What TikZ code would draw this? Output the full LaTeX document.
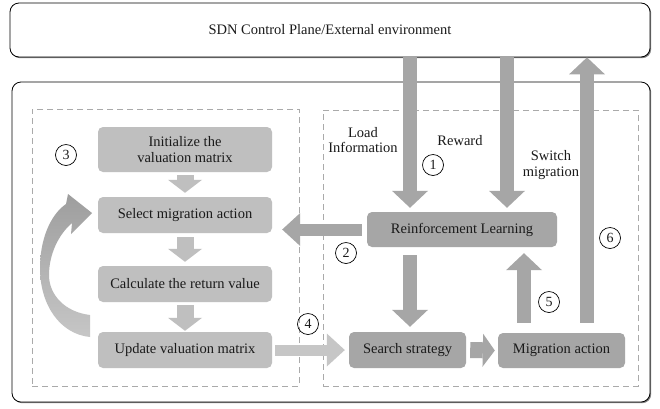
\documentclass[tikz,border=0pt]{standalone}
\usepackage{fontspec}
\setmainfont{Liberation Serif}
\usetikzlibrary{arrows.meta,calc,shadows}
\definecolor{lgray}{HTML}{BFBFBF}
\definecolor{dgray}{HTML}{A6A6A6}
\definecolor{agray}{HTML}{C6C6C6}
\definecolor{dashgray}{HTML}{AAAAAA}
\definecolor{shgray}{HTML}{808080}
\definecolor{txt}{HTML}{1A1A1A}
\begin{document}
\begin{tikzpicture}[x=1pt,y=-1pt,
  every node/.style={font=\fontsize{14.5}{15.5}\selectfont, text=txt},
  lbox/.style={fill=lgray, rounded corners=5pt, align=center, inner sep=0pt},
  dbox/.style={fill=dgray, rounded corners=5pt, align=center, inner sep=0pt},
  frame/.style={draw=black, fill=white, line width=0.8pt, rounded corners=9pt, inner sep=0pt,
    drop shadow={shadow xshift=1.2pt, shadow yshift=-1.2pt, fill=shgray, opacity=1}},
  dframe/.style={draw=dashgray, line width=0.8pt, dash pattern=on 6pt off 4pt, inner sep=0pt},
  fatd/.style={draw=dgray, line width=14pt, -{Triangle[width=36pt,length=17pt,line width=0pt]}},
  fatl/.style={draw=lgray, line width=17pt, -{Triangle[width=34pt,length=13pt,line width=0pt]}},
  num/.style={circle, draw=black, line width=0.7pt, inner sep=0pt, minimum size=21pt, font=\fontsize{14}{14}\selectfont},
  lab/.style={align=center, inner sep=0pt}
]
\useasboundingbox (0,0) rectangle (660,408);

% frames
\node[frame, minimum width=640pt, minimum height=54pt] (top) at (330,30) {SDN Control Plane/External environment};
\node[frame, minimum width=638pt, minimum height=320pt] (outer) at (331,242) {};
\node[dframe, minimum width=267pt, minimum height=277pt] (lframe) at (165.5,247.5) {};
\node[dframe, minimum width=315pt, minimum height=276pt] (rframe) at (480.5,248) {};

% left column
\node[lbox, minimum width=174pt, minimum height=45pt] (init) at (185,149.5) {Initialize the\\valuation matrix};
\node[lbox, minimum width=174pt, minimum height=36pt] (select) at (185,215) {Select migration action};
\node[lbox, minimum width=174pt, minimum height=36pt] (calc) at (185,284) {Calculate the return value};
\node[lbox, minimum width=174pt, minimum height=36pt] (update) at (185,350) {Update valuation matrix};

% right column
\node[dbox, minimum width=190pt, minimum height=35pt] (RL) at (462,229.5) {Reinforcement Learning};
\node[dbox, minimum width=117pt, minimum height=36pt] (search) at (407.5,350) {Search strategy};
\node[dbox, minimum width=127pt, minimum height=35pt] (mig) at (561.5,350.5) {Migration action};

% x positions of vertical arrows
\coordinate (xa) at (410,0);
\coordinate (xb) at (507,0);
\coordinate (xc) at (587,0);
\coordinate (xd) at (524,0);

% left column arrows
\draw[fatl] ($(init.south)+(0,3)$) -- ($(select.north)+(0,-4)$);
\draw[fatl] ($(select.south)+(0,4)$) -- ($(calc.north)+(0,-4)$);
\draw[fatl] ($(calc.south)+(0,3)$) -- ($(update.north)+(0,-1)$);

% loop arrow (update -> select)
\shade[top color=dgray!95!black, bottom color=agray]
  (90,337) .. controls (60,334) and (40,305) .. (40,268)
  .. controls (40,240) and (50,215) .. (66,204)
  -- (68,194) -- (92,213) -- (71,234) -- (72,223)
  .. controls (58,235) and (49,255) .. (49,275)
  .. controls (49,295) and (65,312) .. (90,315) -- cycle;

% environment arrows
\draw[fatd] (top.south -| xa) -- ($(RL.north -| xa)+(0,-4)$);
\draw[fatd] (top.south -| xb) -- ($(RL.north -| xb)+(0,-4)$);
\draw[fatd] ($(mig.north -| xc)+(0,-10)$) -- (top.south -| xc);
\draw[fatd] ($(mig.north -| xd)+(0,-10)$) -- ($(RL.south -| xd)+(0,6)$);
\draw[fatd] ($(RL.south -| xa)+(0,8)$) -- ($(search.north -| xa)+(0,-5)$);
\draw[draw=dgray, line width=16pt, -{Triangle[width=33pt,length=12pt,line width=0pt]}] ($(search.east)+(4,0)$) -- ($(mig.west)+(-3,0)$);
\draw[draw=agray, line width=11pt, -{Triangle[width=33pt,length=18pt,line width=0pt]}] ($(update.east)+(3,0)$) -- ($(search.west)+(-4,0)$);
\draw[draw=dgray, line width=12pt, -{Triangle[width=33pt,length=18pt,line width=0pt]}] ($(RL.west)+(-5,0)$) -- ($(select.east |- RL.west)+(10,0)$);

% labels
\node[lab] (lload) at (363,140) {Load\\Information};
\node[lab] (lrew) at (460,141) {Reward};
\node[lab] (lsw) at (551,165) {Switch\\migration};

% numbers
\node[num] (n1) at (433,165) {1};
\node[num] (n2) at (346,253) {2};
\node[num] (n3) at (66,155) {3};
\node[num] (n4) at (308,324) {4};
\node[num] (n5) at (549,302) {5};
\node[num] (n6) at (610,238) {6};
\end{tikzpicture}
\end{document}
